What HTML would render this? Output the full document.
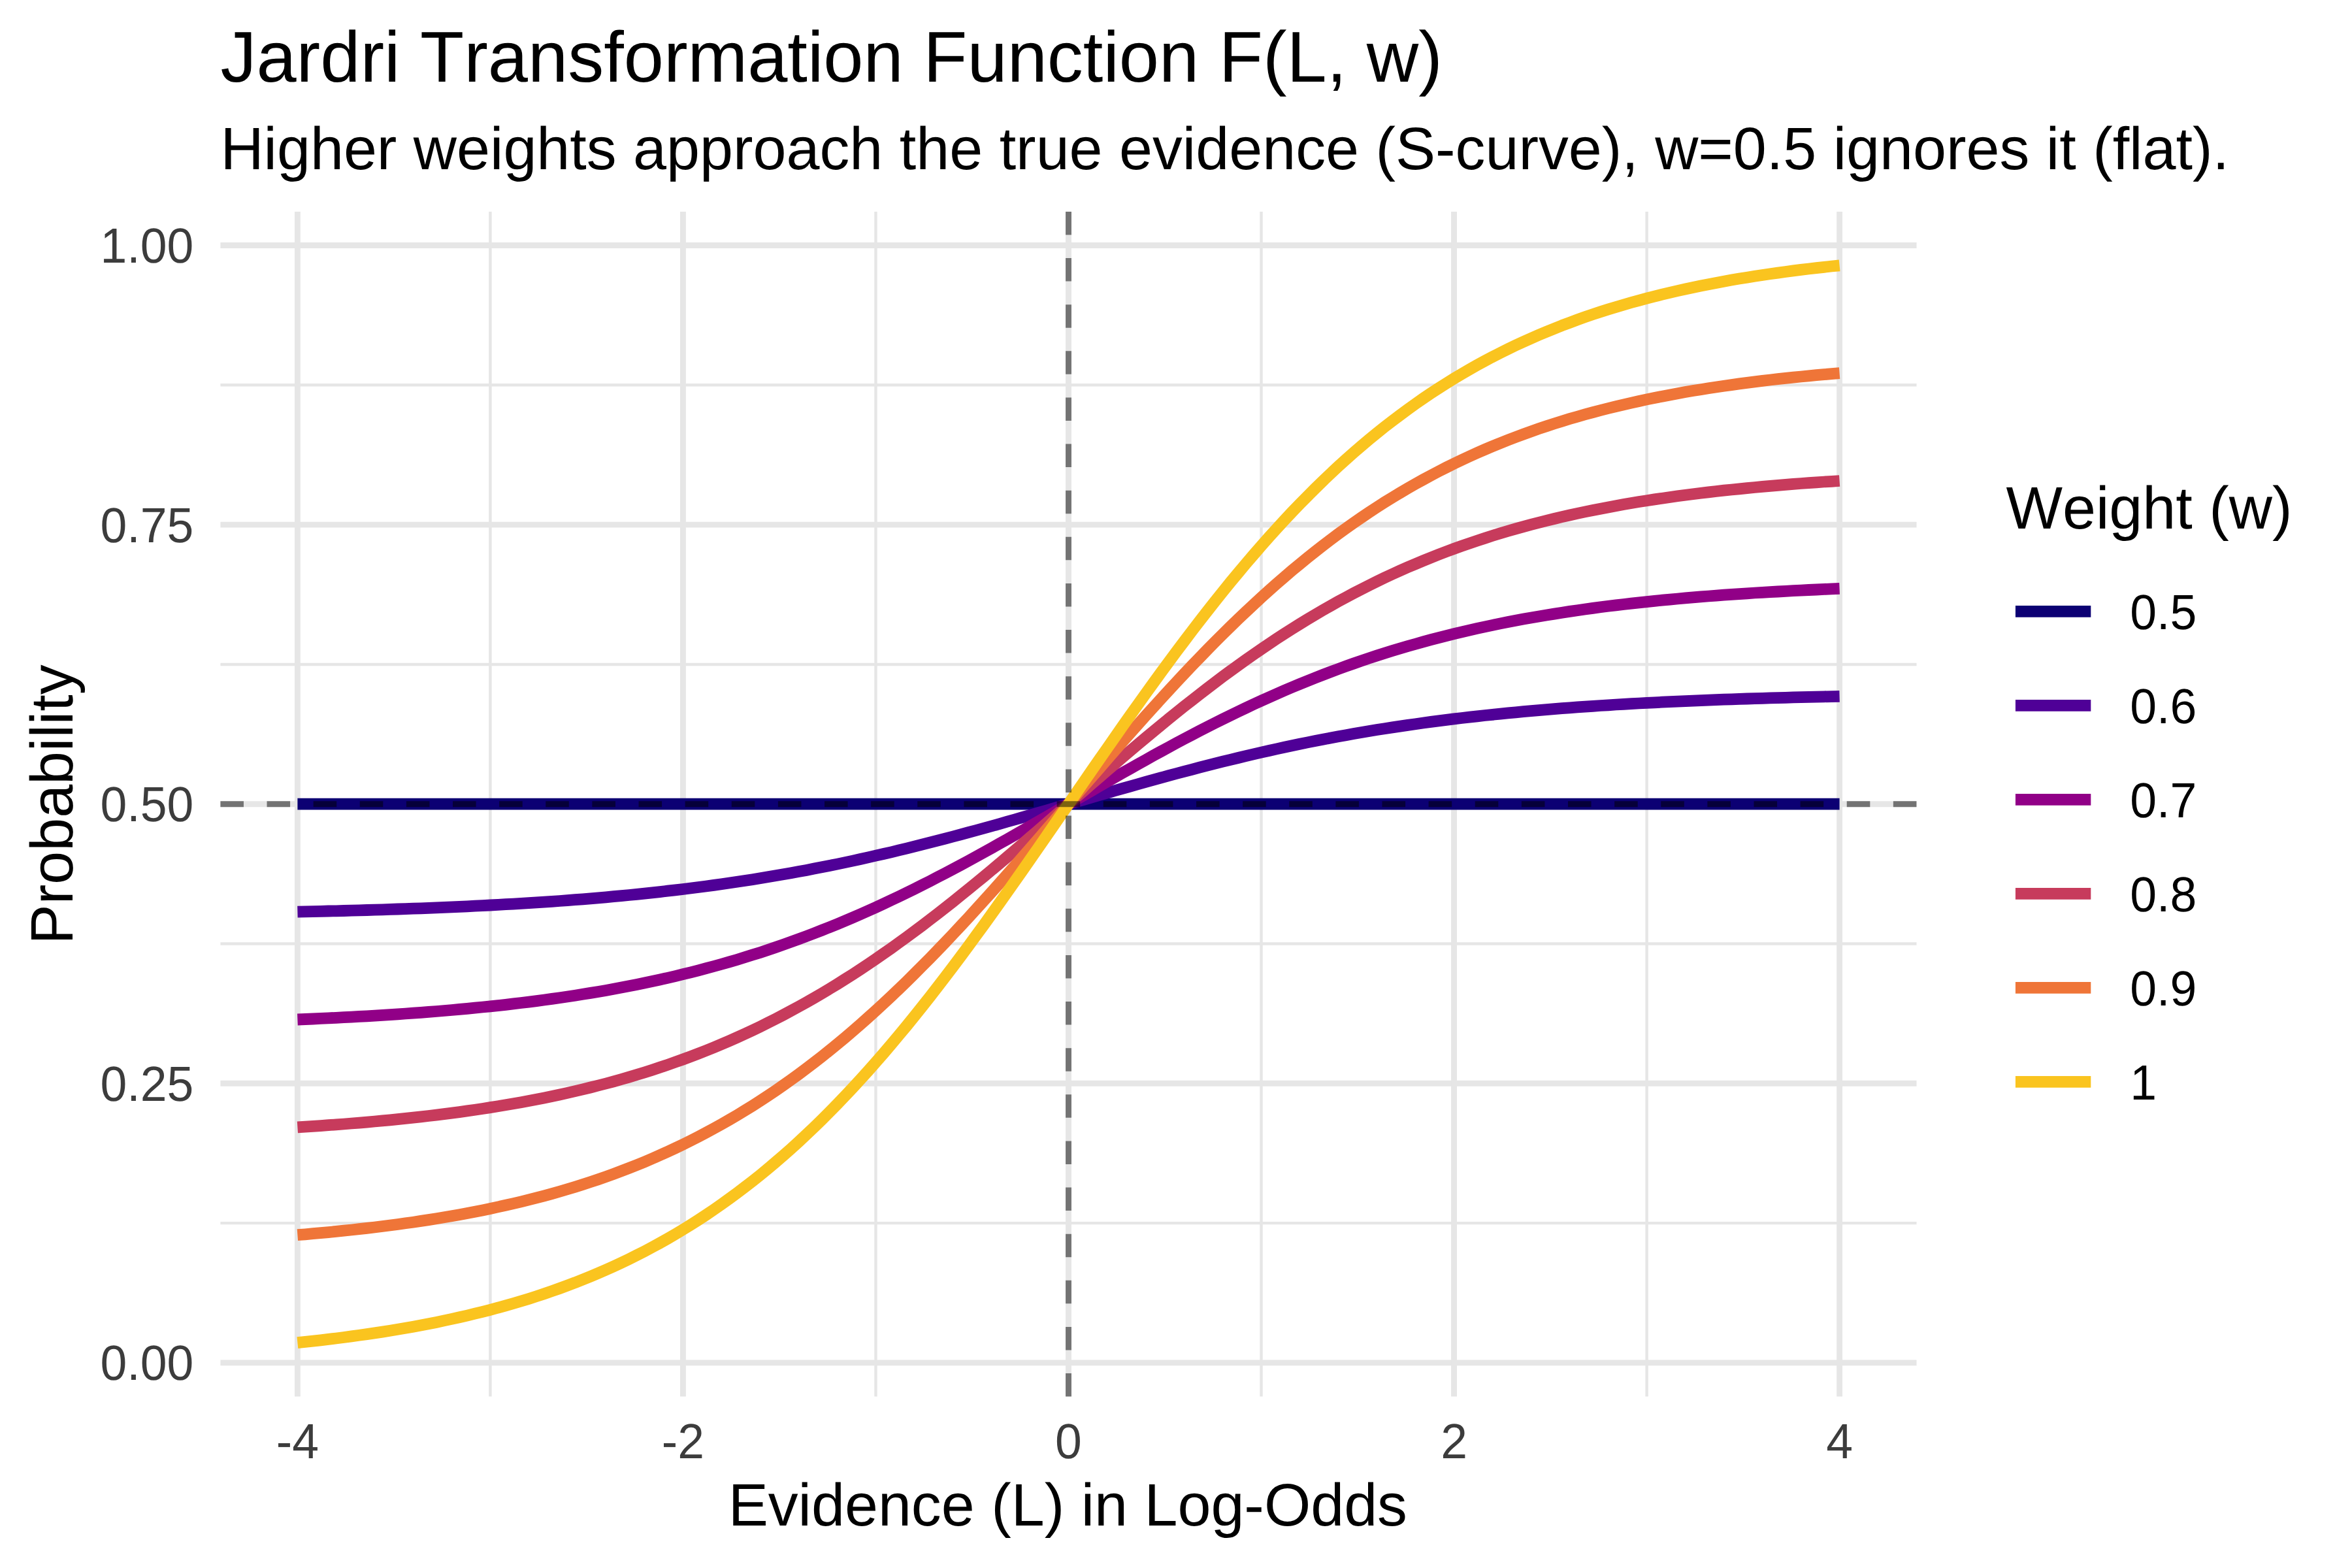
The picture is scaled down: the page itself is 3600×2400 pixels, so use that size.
<!DOCTYPE html>
<html lang="en"><head><meta charset="utf-8"><title>Jardri Transformation Function F(L, w)</title>
<style>
html,body{margin:0;padding:0;background:#fff;}
body{width:3600px;height:2400px;overflow:hidden;}
svg{display:block;}
text{font-family:"Liberation Sans",sans-serif;font-kerning:none;text-rendering:geometricPrecision;}
</style></head><body>
<svg width="3600" height="2400" viewBox="0 0 3600 2400">
<rect width="3600" height="2400" fill="#ffffff"/>
<g stroke="#e6e6e6" fill="none" stroke-width="4.45">
<line x1="337.4" x2="2933.5" y1="1872.10" y2="1872.10"/>
<line x1="337.4" x2="2933.5" y1="1444.50" y2="1444.50"/>
<line x1="337.4" x2="2933.5" y1="1016.90" y2="1016.90"/>
<line x1="337.4" x2="2933.5" y1="589.30" y2="589.30"/>
<line y1="323.9" y2="2137.4" x1="750.41" x2="750.41"/>
<line y1="323.9" y2="2137.4" x1="1340.47" x2="1340.47"/>
<line y1="323.9" y2="2137.4" x1="1930.53" x2="1930.53"/>
<line y1="323.9" y2="2137.4" x1="2520.59" x2="2520.59"/>
</g>
<g stroke="#e6e6e6" fill="none" stroke-width="8.89">
<line x1="337.4" x2="2933.5" y1="2085.90" y2="2085.90"/>
<line x1="337.4" x2="2933.5" y1="1658.30" y2="1658.30"/>
<line x1="337.4" x2="2933.5" y1="1230.70" y2="1230.70"/>
<line x1="337.4" x2="2933.5" y1="803.10" y2="803.10"/>
<line x1="337.4" x2="2933.5" y1="375.50" y2="375.50"/>
<line y1="323.9" y2="2137.4" x1="455.38" x2="455.38"/>
<line y1="323.9" y2="2137.4" x1="1045.44" x2="1045.44"/>
<line y1="323.9" y2="2137.4" x1="1635.50" x2="1635.50"/>
<line y1="323.9" y2="2137.4" x1="2225.56" x2="2225.56"/>
<line y1="323.9" y2="2137.4" x1="2815.62" x2="2815.62"/>
</g>
<g fill="none" stroke-width="17.78" stroke-linejoin="round" stroke-linecap="butt">
<path stroke="#0c0073" d="M455.4 1230.7 L467.2 1230.7 L479.0 1230.7 L490.8 1230.7 L502.6 1230.7 L514.4 1230.7 L526.2 1230.7 L538.0 1230.7 L549.8 1230.7 L561.6 1230.7 L573.4 1230.7 L585.2 1230.7 L597.0 1230.7 L608.8 1230.7 L620.6 1230.7 L632.4 1230.7 L644.2 1230.7 L656.0 1230.7 L667.8 1230.7 L679.6 1230.7 L691.4 1230.7 L703.2 1230.7 L715.0 1230.7 L726.8 1230.7 L738.6 1230.7 L750.4 1230.7 L762.2 1230.7 L774.0 1230.7 L785.8 1230.7 L797.6 1230.7 L809.4 1230.7 L821.2 1230.7 L833.0 1230.7 L844.8 1230.7 L856.6 1230.7 L868.4 1230.7 L880.2 1230.7 L892.0 1230.7 L903.8 1230.7 L915.6 1230.7 L927.4 1230.7 L939.2 1230.7 L951.0 1230.7 L962.8 1230.7 L974.6 1230.7 L986.4 1230.7 L998.2 1230.7 L1010.0 1230.7 L1021.8 1230.7 L1033.6 1230.7 L1045.4 1230.7 L1057.2 1230.7 L1069.0 1230.7 L1080.8 1230.7 L1092.6 1230.7 L1104.4 1230.7 L1116.2 1230.7 L1128.0 1230.7 L1139.8 1230.7 L1151.7 1230.7 L1163.5 1230.7 L1175.3 1230.7 L1187.1 1230.7 L1198.9 1230.7 L1210.7 1230.7 L1222.5 1230.7 L1234.3 1230.7 L1246.1 1230.7 L1257.9 1230.7 L1269.7 1230.7 L1281.5 1230.7 L1293.3 1230.7 L1305.1 1230.7 L1316.9 1230.7 L1328.7 1230.7 L1340.5 1230.7 L1352.3 1230.7 L1364.1 1230.7 L1375.9 1230.7 L1387.7 1230.7 L1399.5 1230.7 L1411.3 1230.7 L1423.1 1230.7 L1434.9 1230.7 L1446.7 1230.7 L1458.5 1230.7 L1470.3 1230.7 L1482.1 1230.7 L1493.9 1230.7 L1505.7 1230.7 L1517.5 1230.7 L1529.3 1230.7 L1541.1 1230.7 L1552.9 1230.7 L1564.7 1230.7 L1576.5 1230.7 L1588.3 1230.7 L1600.1 1230.7 L1611.9 1230.7 L1623.7 1230.7 L1635.5 1230.7 L1647.3 1230.7 L1659.1 1230.7 L1670.9 1230.7 L1682.7 1230.7 L1694.5 1230.7 L1706.3 1230.7 L1718.1 1230.7 L1729.9 1230.7 L1741.7 1230.7 L1753.5 1230.7 L1765.3 1230.7 L1777.1 1230.7 L1788.9 1230.7 L1800.7 1230.7 L1812.5 1230.7 L1824.3 1230.7 L1836.1 1230.7 L1847.9 1230.7 L1859.7 1230.7 L1871.5 1230.7 L1883.3 1230.7 L1895.1 1230.7 L1906.9 1230.7 L1918.7 1230.7 L1930.5 1230.7 L1942.3 1230.7 L1954.1 1230.7 L1965.9 1230.7 L1977.7 1230.7 L1989.5 1230.7 L2001.3 1230.7 L2013.1 1230.7 L2024.9 1230.7 L2036.7 1230.7 L2048.5 1230.7 L2060.3 1230.7 L2072.1 1230.7 L2083.9 1230.7 L2095.7 1230.7 L2107.5 1230.7 L2119.3 1230.7 L2131.2 1230.7 L2143.0 1230.7 L2154.8 1230.7 L2166.6 1230.7 L2178.4 1230.7 L2190.2 1230.7 L2202.0 1230.7 L2213.8 1230.7 L2225.6 1230.7 L2237.4 1230.7 L2249.2 1230.7 L2261.0 1230.7 L2272.8 1230.7 L2284.6 1230.7 L2296.4 1230.7 L2308.2 1230.7 L2320.0 1230.7 L2331.8 1230.7 L2343.6 1230.7 L2355.4 1230.7 L2367.2 1230.7 L2379.0 1230.7 L2390.8 1230.7 L2402.6 1230.7 L2414.4 1230.7 L2426.2 1230.7 L2438.0 1230.7 L2449.8 1230.7 L2461.6 1230.7 L2473.4 1230.7 L2485.2 1230.7 L2497.0 1230.7 L2508.8 1230.7 L2520.6 1230.7 L2532.4 1230.7 L2544.2 1230.7 L2556.0 1230.7 L2567.8 1230.7 L2579.6 1230.7 L2591.4 1230.7 L2603.2 1230.7 L2615.0 1230.7 L2626.8 1230.7 L2638.6 1230.7 L2650.4 1230.7 L2662.2 1230.7 L2674.0 1230.7 L2685.8 1230.7 L2697.6 1230.7 L2709.4 1230.7 L2721.2 1230.7 L2733.0 1230.7 L2744.8 1230.7 L2756.6 1230.7 L2768.4 1230.7 L2780.2 1230.7 L2792.0 1230.7 L2803.8 1230.7 L2815.6 1230.7"/>
<path stroke="#4f0097" d="M455.4 1395.6 L467.2 1395.3 L479.0 1395.1 L490.8 1394.8 L502.6 1394.5 L514.4 1394.3 L526.2 1394.0 L538.0 1393.6 L549.8 1393.3 L561.6 1393.0 L573.4 1392.6 L585.2 1392.3 L597.0 1391.9 L608.8 1391.5 L620.6 1391.1 L632.4 1390.7 L644.2 1390.3 L656.0 1389.8 L667.8 1389.3 L679.6 1388.8 L691.4 1388.3 L703.2 1387.8 L715.0 1387.3 L726.8 1386.7 L738.6 1386.1 L750.4 1385.5 L762.2 1384.9 L774.0 1384.2 L785.8 1383.6 L797.6 1382.9 L809.4 1382.1 L821.2 1381.4 L833.0 1380.6 L844.8 1379.8 L856.6 1379.0 L868.4 1378.1 L880.2 1377.2 L892.0 1376.3 L903.8 1375.3 L915.6 1374.3 L927.4 1373.3 L939.2 1372.2 L951.0 1371.1 L962.8 1370.0 L974.6 1368.8 L986.4 1367.6 L998.2 1366.4 L1010.0 1365.1 L1021.8 1363.7 L1033.6 1362.4 L1045.4 1361.0 L1057.2 1359.5 L1069.0 1358.0 L1080.8 1356.5 L1092.6 1354.9 L1104.4 1353.2 L1116.2 1351.5 L1128.0 1349.8 L1139.8 1348.0 L1151.7 1346.2 L1163.5 1344.3 L1175.3 1342.3 L1187.1 1340.3 L1198.9 1338.3 L1210.7 1336.2 L1222.5 1334.1 L1234.3 1331.9 L1246.1 1329.6 L1257.9 1327.3 L1269.7 1325.0 L1281.5 1322.6 L1293.3 1320.1 L1305.1 1317.6 L1316.9 1315.0 L1328.7 1312.4 L1340.5 1309.7 L1352.3 1307.0 L1364.1 1304.3 L1375.9 1301.4 L1387.7 1298.6 L1399.5 1295.7 L1411.3 1292.7 L1423.1 1289.7 L1434.9 1286.7 L1446.7 1283.6 L1458.5 1280.5 L1470.3 1277.4 L1482.1 1274.2 L1493.9 1271.0 L1505.7 1267.7 L1517.5 1264.5 L1529.3 1261.2 L1541.1 1257.8 L1552.9 1254.5 L1564.7 1251.1 L1576.5 1247.7 L1588.3 1244.4 L1600.1 1241.0 L1611.9 1237.5 L1623.7 1234.1 L1635.5 1230.7 L1647.3 1227.3 L1659.1 1223.9 L1670.9 1220.4 L1682.7 1217.0 L1694.5 1213.7 L1706.3 1210.3 L1718.1 1206.9 L1729.9 1203.6 L1741.7 1200.2 L1753.5 1196.9 L1765.3 1193.7 L1777.1 1190.4 L1788.9 1187.2 L1800.7 1184.0 L1812.5 1180.9 L1824.3 1177.8 L1836.1 1174.7 L1847.9 1171.7 L1859.7 1168.7 L1871.5 1165.7 L1883.3 1162.8 L1895.1 1160.0 L1906.9 1157.1 L1918.7 1154.4 L1930.5 1151.7 L1942.3 1149.0 L1954.1 1146.4 L1965.9 1143.8 L1977.7 1141.3 L1989.5 1138.8 L2001.3 1136.4 L2013.1 1134.1 L2024.9 1131.8 L2036.7 1129.5 L2048.5 1127.3 L2060.3 1125.2 L2072.1 1123.1 L2083.9 1121.1 L2095.7 1119.1 L2107.5 1117.1 L2119.3 1115.2 L2131.2 1113.4 L2143.0 1111.6 L2154.8 1109.9 L2166.6 1108.2 L2178.4 1106.5 L2190.2 1104.9 L2202.0 1103.4 L2213.8 1101.9 L2225.6 1100.4 L2237.4 1099.0 L2249.2 1097.7 L2261.0 1096.3 L2272.8 1095.0 L2284.6 1093.8 L2296.4 1092.6 L2308.2 1091.4 L2320.0 1090.3 L2331.8 1089.2 L2343.6 1088.1 L2355.4 1087.1 L2367.2 1086.1 L2379.0 1085.1 L2390.8 1084.2 L2402.6 1083.3 L2414.4 1082.4 L2426.2 1081.6 L2438.0 1080.8 L2449.8 1080.0 L2461.6 1079.3 L2473.4 1078.5 L2485.2 1077.8 L2497.0 1077.2 L2508.8 1076.5 L2520.6 1075.9 L2532.4 1075.3 L2544.2 1074.7 L2556.0 1074.1 L2567.8 1073.6 L2579.6 1073.1 L2591.4 1072.6 L2603.2 1072.1 L2615.0 1071.6 L2626.8 1071.1 L2638.6 1070.7 L2650.4 1070.3 L2662.2 1069.9 L2674.0 1069.5 L2685.8 1069.1 L2697.6 1068.8 L2709.4 1068.4 L2721.2 1068.1 L2733.0 1067.8 L2744.8 1067.4 L2756.6 1067.1 L2768.4 1066.9 L2780.2 1066.6 L2792.0 1066.3 L2803.8 1066.1 L2815.6 1065.8"/>
<path stroke="#910087" d="M455.4 1560.5 L467.2 1560.0 L479.0 1559.5 L490.8 1558.9 L502.6 1558.4 L514.4 1557.8 L526.2 1557.2 L538.0 1556.6 L549.8 1555.9 L561.6 1555.3 L573.4 1554.6 L585.2 1553.9 L597.0 1553.1 L608.8 1552.3 L620.6 1551.5 L632.4 1550.7 L644.2 1549.8 L656.0 1548.9 L667.8 1548.0 L679.6 1547.0 L691.4 1546.0 L703.2 1544.9 L715.0 1543.8 L726.8 1542.7 L738.6 1541.5 L750.4 1540.3 L762.2 1539.1 L774.0 1537.8 L785.8 1536.4 L797.6 1535.0 L809.4 1533.6 L821.2 1532.1 L833.0 1530.5 L844.8 1528.9 L856.6 1527.2 L868.4 1525.5 L880.2 1523.7 L892.0 1521.8 L903.8 1519.9 L915.6 1517.9 L927.4 1515.9 L939.2 1513.8 L951.0 1511.6 L962.8 1509.3 L974.6 1507.0 L986.4 1504.5 L998.2 1502.0 L1010.0 1499.5 L1021.8 1496.8 L1033.6 1494.1 L1045.4 1491.2 L1057.2 1488.3 L1069.0 1485.3 L1080.8 1482.2 L1092.6 1479.0 L1104.4 1475.7 L1116.2 1472.4 L1128.0 1468.9 L1139.8 1465.3 L1151.7 1461.6 L1163.5 1457.9 L1175.3 1454.0 L1187.1 1450.0 L1198.9 1445.9 L1210.7 1441.7 L1222.5 1437.4 L1234.3 1433.0 L1246.1 1428.5 L1257.9 1423.9 L1269.7 1419.2 L1281.5 1414.4 L1293.3 1409.5 L1305.1 1404.5 L1316.9 1399.3 L1328.7 1394.1 L1340.5 1388.8 L1352.3 1383.4 L1364.1 1377.8 L1375.9 1372.2 L1387.7 1366.5 L1399.5 1360.7 L1411.3 1354.8 L1423.1 1348.8 L1434.9 1342.7 L1446.7 1336.6 L1458.5 1330.4 L1470.3 1324.1 L1482.1 1317.7 L1493.9 1311.3 L1505.7 1304.8 L1517.5 1298.2 L1529.3 1291.6 L1541.1 1285.0 L1552.9 1278.3 L1564.7 1271.6 L1576.5 1264.8 L1588.3 1258.0 L1600.1 1251.2 L1611.9 1244.4 L1623.7 1237.5 L1635.5 1230.7 L1647.3 1223.9 L1659.1 1217.0 L1670.9 1210.2 L1682.7 1203.4 L1694.5 1196.6 L1706.3 1189.8 L1718.1 1183.1 L1729.9 1176.4 L1741.7 1169.8 L1753.5 1163.2 L1765.3 1156.6 L1777.1 1150.1 L1788.9 1143.7 L1800.7 1137.3 L1812.5 1131.0 L1824.3 1124.8 L1836.1 1118.7 L1847.9 1112.6 L1859.7 1106.6 L1871.5 1100.7 L1883.3 1094.9 L1895.1 1089.2 L1906.9 1083.6 L1918.7 1078.0 L1930.5 1072.6 L1942.3 1067.3 L1954.1 1062.1 L1965.9 1056.9 L1977.7 1051.9 L1989.5 1047.0 L2001.3 1042.2 L2013.1 1037.5 L2024.9 1032.9 L2036.7 1028.4 L2048.5 1024.0 L2060.3 1019.7 L2072.1 1015.5 L2083.9 1011.4 L2095.7 1007.4 L2107.5 1003.5 L2119.3 999.8 L2131.2 996.1 L2143.0 992.5 L2154.8 989.0 L2166.6 985.7 L2178.4 982.4 L2190.2 979.2 L2202.0 976.1 L2213.8 973.1 L2225.6 970.2 L2237.4 967.3 L2249.2 964.6 L2261.0 961.9 L2272.8 959.4 L2284.6 956.9 L2296.4 954.4 L2308.2 952.1 L2320.0 949.8 L2331.8 947.6 L2343.6 945.5 L2355.4 943.5 L2367.2 941.5 L2379.0 939.6 L2390.8 937.7 L2402.6 935.9 L2414.4 934.2 L2426.2 932.5 L2438.0 930.9 L2449.8 929.3 L2461.6 927.8 L2473.4 926.4 L2485.2 925.0 L2497.0 923.6 L2508.8 922.3 L2520.6 921.1 L2532.4 919.9 L2544.2 918.7 L2556.0 917.6 L2567.8 916.5 L2579.6 915.4 L2591.4 914.4 L2603.2 913.4 L2615.0 912.5 L2626.8 911.6 L2638.6 910.7 L2650.4 909.9 L2662.2 909.1 L2674.0 908.3 L2685.8 907.5 L2697.6 906.8 L2709.4 906.1 L2721.2 905.5 L2733.0 904.8 L2744.8 904.2 L2756.6 903.6 L2768.4 903.0 L2780.2 902.5 L2792.0 901.9 L2803.8 901.4 L2815.6 900.9"/>
<path stroke="#c73b5c" d="M455.4 1725.4 L467.2 1724.6 L479.0 1723.9 L490.8 1723.1 L502.6 1722.2 L514.4 1721.4 L526.2 1720.5 L538.0 1719.5 L549.8 1718.6 L561.6 1717.6 L573.4 1716.5 L585.2 1715.4 L597.0 1714.3 L608.8 1713.1 L620.6 1711.9 L632.4 1710.7 L644.2 1709.4 L656.0 1708.0 L667.8 1706.6 L679.6 1705.1 L691.4 1703.6 L703.2 1702.1 L715.0 1700.4 L726.8 1698.7 L738.6 1697.0 L750.4 1695.1 L762.2 1693.3 L774.0 1691.3 L785.8 1689.3 L797.6 1687.2 L809.4 1685.0 L821.2 1682.7 L833.0 1680.4 L844.8 1678.0 L856.6 1675.5 L868.4 1672.9 L880.2 1670.2 L892.0 1667.4 L903.8 1664.5 L915.6 1661.5 L927.4 1658.5 L939.2 1655.3 L951.0 1652.0 L962.8 1648.6 L974.6 1645.1 L986.4 1641.5 L998.2 1637.7 L1010.0 1633.8 L1021.8 1629.8 L1033.6 1625.7 L1045.4 1621.5 L1057.2 1617.1 L1069.0 1612.6 L1080.8 1608.0 L1092.6 1603.2 L1104.4 1598.2 L1116.2 1593.2 L1128.0 1588.0 L1139.8 1582.6 L1151.7 1577.1 L1163.5 1571.4 L1175.3 1565.6 L1187.1 1559.6 L1198.9 1553.5 L1210.7 1547.2 L1222.5 1540.8 L1234.3 1534.2 L1246.1 1527.5 L1257.9 1520.6 L1269.7 1513.5 L1281.5 1506.3 L1293.3 1498.9 L1305.1 1491.4 L1316.9 1483.7 L1328.7 1475.8 L1340.5 1467.8 L1352.3 1459.7 L1364.1 1451.4 L1375.9 1442.9 L1387.7 1434.4 L1399.5 1425.7 L1411.3 1416.8 L1423.1 1407.8 L1434.9 1398.7 L1446.7 1389.5 L1458.5 1380.2 L1470.3 1370.7 L1482.1 1361.2 L1493.9 1351.5 L1505.7 1341.8 L1517.5 1332.0 L1529.3 1322.1 L1541.1 1312.1 L1552.9 1302.1 L1564.7 1292.0 L1576.5 1281.8 L1588.3 1271.7 L1600.1 1261.5 L1611.9 1251.2 L1623.7 1241.0 L1635.5 1230.7 L1647.3 1220.4 L1659.1 1210.2 L1670.9 1199.9 L1682.7 1189.7 L1694.5 1179.6 L1706.3 1169.4 L1718.1 1159.3 L1729.9 1149.3 L1741.7 1139.3 L1753.5 1129.4 L1765.3 1119.6 L1777.1 1109.9 L1788.9 1100.2 L1800.7 1090.7 L1812.5 1081.2 L1824.3 1071.9 L1836.1 1062.7 L1847.9 1053.6 L1859.7 1044.6 L1871.5 1035.7 L1883.3 1027.0 L1895.1 1018.5 L1906.9 1010.0 L1918.7 1001.7 L1930.5 993.6 L1942.3 985.6 L1954.1 977.7 L1965.9 970.0 L1977.7 962.5 L1989.5 955.1 L2001.3 947.9 L2013.1 940.8 L2024.9 933.9 L2036.7 927.2 L2048.5 920.6 L2060.3 914.2 L2072.1 907.9 L2083.9 901.8 L2095.7 895.8 L2107.5 890.0 L2119.3 884.3 L2131.2 878.8 L2143.0 873.4 L2154.8 868.2 L2166.6 863.2 L2178.4 858.2 L2190.2 853.4 L2202.0 848.8 L2213.8 844.3 L2225.6 839.9 L2237.4 835.7 L2249.2 831.6 L2261.0 827.6 L2272.8 823.7 L2284.6 819.9 L2296.4 816.3 L2308.2 812.8 L2320.0 809.4 L2331.8 806.1 L2343.6 802.9 L2355.4 799.9 L2367.2 796.9 L2379.0 794.0 L2390.8 791.2 L2402.6 788.5 L2414.4 785.9 L2426.2 783.4 L2438.0 781.0 L2449.8 778.7 L2461.6 776.4 L2473.4 774.2 L2485.2 772.1 L2497.0 770.1 L2508.8 768.1 L2520.6 766.3 L2532.4 764.4 L2544.2 762.7 L2556.0 761.0 L2567.8 759.3 L2579.6 757.8 L2591.4 756.3 L2603.2 754.8 L2615.0 753.4 L2626.8 752.0 L2638.6 750.7 L2650.4 749.5 L2662.2 748.3 L2674.0 747.1 L2685.8 746.0 L2697.6 744.9 L2709.4 743.8 L2721.2 742.8 L2733.0 741.9 L2744.8 740.9 L2756.6 740.0 L2768.4 739.2 L2780.2 738.3 L2792.0 737.5 L2803.8 736.8 L2815.6 736.0"/>
<path stroke="#ef7538" d="M455.4 1890.2 L467.2 1889.3 L479.0 1888.2 L490.8 1887.2 L502.6 1886.1 L514.4 1884.9 L526.2 1883.7 L538.0 1882.5 L549.8 1881.2 L561.6 1879.9 L573.4 1878.5 L585.2 1877.0 L597.0 1875.5 L608.8 1874.0 L620.6 1872.3 L632.4 1870.7 L644.2 1868.9 L656.0 1867.1 L667.8 1865.2 L679.6 1863.3 L691.4 1861.3 L703.2 1859.2 L715.0 1857.0 L726.8 1854.7 L738.6 1852.4 L750.4 1850.0 L762.2 1847.4 L774.0 1844.8 L785.8 1842.1 L797.6 1839.3 L809.4 1836.4 L821.2 1833.4 L833.0 1830.3 L844.8 1827.1 L856.6 1823.7 L868.4 1820.3 L880.2 1816.7 L892.0 1813.0 L903.8 1809.1 L915.6 1805.2 L927.4 1801.1 L939.2 1796.8 L951.0 1792.4 L962.8 1787.9 L974.6 1783.2 L986.4 1778.4 L998.2 1773.4 L1010.0 1768.2 L1021.8 1762.9 L1033.6 1757.4 L1045.4 1751.8 L1057.2 1745.9 L1069.0 1739.9 L1080.8 1733.7 L1092.6 1727.3 L1104.4 1720.8 L1116.2 1714.0 L1128.0 1707.1 L1139.8 1699.9 L1151.7 1692.6 L1163.5 1685.0 L1175.3 1677.3 L1187.1 1669.3 L1198.9 1661.1 L1210.7 1652.8 L1222.5 1644.2 L1234.3 1635.4 L1246.1 1626.4 L1257.9 1617.2 L1269.7 1607.8 L1281.5 1598.1 L1293.3 1588.3 L1305.1 1578.2 L1316.9 1568.0 L1328.7 1557.5 L1340.5 1546.9 L1352.3 1536.0 L1364.1 1524.9 L1375.9 1513.7 L1387.7 1502.3 L1399.5 1490.6 L1411.3 1478.8 L1423.1 1466.9 L1434.9 1454.7 L1446.7 1442.5 L1458.5 1430.0 L1470.3 1417.4 L1482.1 1404.7 L1493.9 1391.8 L1505.7 1378.8 L1517.5 1365.7 L1529.3 1352.5 L1541.1 1339.2 L1552.9 1325.9 L1564.7 1312.4 L1576.5 1298.9 L1588.3 1285.3 L1600.1 1271.7 L1611.9 1258.1 L1623.7 1244.4 L1635.5 1230.7 L1647.3 1217.0 L1659.1 1203.3 L1670.9 1189.7 L1682.7 1176.1 L1694.5 1162.5 L1706.3 1149.0 L1718.1 1135.5 L1729.9 1122.2 L1741.7 1108.9 L1753.5 1095.7 L1765.3 1082.6 L1777.1 1069.6 L1788.9 1056.7 L1800.7 1044.0 L1812.5 1031.4 L1824.3 1018.9 L1836.1 1006.7 L1847.9 994.5 L1859.7 982.6 L1871.5 970.8 L1883.3 959.1 L1895.1 947.7 L1906.9 936.5 L1918.7 925.4 L1930.5 914.5 L1942.3 903.9 L1954.1 893.4 L1965.9 883.2 L1977.7 873.1 L1989.5 863.3 L2001.3 853.6 L2013.1 844.2 L2024.9 835.0 L2036.7 826.0 L2048.5 817.2 L2060.3 808.6 L2072.1 800.3 L2083.9 792.1 L2095.7 784.1 L2107.5 776.4 L2119.3 768.8 L2131.2 761.5 L2143.0 754.3 L2154.8 747.4 L2166.6 740.6 L2178.4 734.1 L2190.2 727.7 L2202.0 721.5 L2213.8 715.5 L2225.6 709.6 L2237.4 704.0 L2249.2 698.5 L2261.0 693.2 L2272.8 688.0 L2284.6 683.0 L2296.4 678.2 L2308.2 673.5 L2320.0 669.0 L2331.8 664.6 L2343.6 660.3 L2355.4 656.2 L2367.2 652.3 L2379.0 648.4 L2390.8 644.7 L2402.6 641.1 L2414.4 637.7 L2426.2 634.3 L2438.0 631.1 L2449.8 628.0 L2461.6 625.0 L2473.4 622.1 L2485.2 619.3 L2497.0 616.6 L2508.8 614.0 L2520.6 611.4 L2532.4 609.0 L2544.2 606.7 L2556.0 604.4 L2567.8 602.2 L2579.6 600.1 L2591.4 598.1 L2603.2 596.2 L2615.0 594.3 L2626.8 592.5 L2638.6 590.7 L2650.4 589.1 L2662.2 587.4 L2674.0 585.9 L2685.8 584.4 L2697.6 582.9 L2709.4 581.5 L2721.2 580.2 L2733.0 578.9 L2744.8 577.7 L2756.6 576.5 L2768.4 575.3 L2780.2 574.2 L2792.0 573.2 L2803.8 572.1 L2815.6 571.2"/>
<path stroke="#fac41f" d="M455.4 2055.1 L467.2 2053.9 L479.0 2052.6 L490.8 2051.3 L502.6 2049.9 L514.4 2048.5 L526.2 2047.0 L538.0 2045.4 L549.8 2043.8 L561.6 2042.1 L573.4 2040.4 L585.2 2038.6 L597.0 2036.7 L608.8 2034.8 L620.6 2032.8 L632.4 2030.7 L644.2 2028.5 L656.0 2026.2 L667.8 2023.9 L679.6 2021.4 L691.4 2018.9 L703.2 2016.3 L715.0 2013.6 L726.8 2010.7 L738.6 2007.8 L750.4 2004.8 L762.2 2001.6 L774.0 1998.4 L785.8 1995.0 L797.6 1991.5 L809.4 1987.9 L821.2 1984.1 L833.0 1980.2 L844.8 1976.2 L856.6 1972.0 L868.4 1967.6 L880.2 1963.2 L892.0 1958.5 L903.8 1953.7 L915.6 1948.8 L927.4 1943.6 L939.2 1938.3 L951.0 1932.9 L962.8 1927.2 L974.6 1921.3 L986.4 1915.3 L998.2 1909.0 L1010.0 1902.6 L1021.8 1895.9 L1033.6 1889.1 L1045.4 1882.0 L1057.2 1874.7 L1069.0 1867.2 L1080.8 1859.5 L1092.6 1851.5 L1104.4 1843.3 L1116.2 1834.8 L1128.0 1826.1 L1139.8 1817.2 L1151.7 1808.0 L1163.5 1798.6 L1175.3 1788.9 L1187.1 1778.9 L1198.9 1768.7 L1210.7 1758.3 L1222.5 1747.6 L1234.3 1736.6 L1246.1 1725.3 L1257.9 1713.8 L1269.7 1702.0 L1281.5 1690.0 L1293.3 1677.7 L1305.1 1665.1 L1316.9 1652.3 L1328.7 1639.2 L1340.5 1625.9 L1352.3 1612.3 L1364.1 1598.5 L1375.9 1584.4 L1387.7 1570.2 L1399.5 1555.6 L1411.3 1540.9 L1423.1 1525.9 L1434.9 1510.8 L1446.7 1495.4 L1458.5 1479.8 L1470.3 1464.1 L1482.1 1448.2 L1493.9 1432.1 L1505.7 1415.9 L1517.5 1399.5 L1529.3 1383.0 L1541.1 1366.4 L1552.9 1349.7 L1564.7 1332.8 L1576.5 1315.9 L1588.3 1299.0 L1600.1 1282.0 L1611.9 1264.9 L1623.7 1247.8 L1635.5 1230.7 L1647.3 1213.6 L1659.1 1196.5 L1670.9 1179.4 L1682.7 1162.4 L1694.5 1145.5 L1706.3 1128.6 L1718.1 1111.7 L1729.9 1095.0 L1741.7 1078.4 L1753.5 1061.9 L1765.3 1045.5 L1777.1 1029.3 L1788.9 1013.2 L1800.7 997.3 L1812.5 981.6 L1824.3 966.0 L1836.1 950.6 L1847.9 935.5 L1859.7 920.5 L1871.5 905.8 L1883.3 891.2 L1895.1 877.0 L1906.9 862.9 L1918.7 849.1 L1930.5 835.5 L1942.3 822.2 L1954.1 809.1 L1965.9 796.3 L1977.7 783.7 L1989.5 771.4 L2001.3 759.4 L2013.1 747.6 L2024.9 736.1 L2036.7 724.8 L2048.5 713.8 L2060.3 703.1 L2072.1 692.7 L2083.9 682.5 L2095.7 672.5 L2107.5 662.8 L2119.3 653.4 L2131.2 644.2 L2143.0 635.3 L2154.8 626.6 L2166.6 618.1 L2178.4 609.9 L2190.2 601.9 L2202.0 594.2 L2213.8 586.7 L2225.6 579.4 L2237.4 572.3 L2249.2 565.5 L2261.0 558.8 L2272.8 552.4 L2284.6 546.1 L2296.4 540.1 L2308.2 534.2 L2320.0 528.5 L2331.8 523.1 L2343.6 517.8 L2355.4 512.6 L2367.2 507.7 L2379.0 502.9 L2390.8 498.2 L2402.6 493.8 L2414.4 489.4 L2426.2 485.2 L2438.0 481.2 L2449.8 477.3 L2461.6 473.5 L2473.4 469.9 L2485.2 466.4 L2497.0 463.0 L2508.8 459.8 L2520.6 456.6 L2532.4 453.6 L2544.2 450.7 L2556.0 447.8 L2567.8 445.1 L2579.6 442.5 L2591.4 440.0 L2603.2 437.5 L2615.0 435.2 L2626.8 432.9 L2638.6 430.7 L2650.4 428.6 L2662.2 426.6 L2674.0 424.7 L2685.8 422.8 L2697.6 421.0 L2709.4 419.3 L2721.2 417.6 L2733.0 416.0 L2744.8 414.4 L2756.6 412.9 L2768.4 411.5 L2780.2 410.1 L2792.0 408.8 L2803.8 407.5 L2815.6 406.3"/>
</g>
<g stroke="#000" stroke-opacity="0.5" stroke-width="8.89" stroke-dasharray="35.562 35.562" fill="none">
<line x1="337.4" x2="2933.5" y1="1230.70" y2="1230.70"/>
<line y1="2137.6" y2="323.9" x1="1635.50" x2="1635.50"/>
</g>
<text x="337.4" y="124.6" font-size="110" fill="#000">Jardri Transformation Function F(L, w)</text>
<text x="337.4" y="259" font-size="91.67" fill="#000">Higher weights approach the true evidence (S-curve), w=0.5 ignores it (flat).</text>
<g font-size="73.33" fill="#3c3c3c" text-anchor="end">
<text transform="translate(296.2 2112.35) scale(1 1.03)">0.00</text>
<text transform="translate(296.2 1684.75) scale(1 1.03)">0.25</text>
<text transform="translate(296.2 1257.15) scale(1 1.03)">0.50</text>
<text transform="translate(296.2 829.55) scale(1 1.03)">0.75</text>
<text transform="translate(296.2 401.95) scale(1 1.03)">1.00</text>
</g>
<g font-size="73.33" fill="#3c3c3c" text-anchor="middle">
<text transform="translate(455.38 2232.0) scale(1 1.03)">-4</text>
<text transform="translate(1045.44 2232.0) scale(1 1.03)">-2</text>
<text transform="translate(1635.50 2232.0) scale(1 1.03)">0</text>
<text transform="translate(2225.56 2232.0) scale(1 1.03)">2</text>
<text transform="translate(2815.62 2232.0) scale(1 1.03)">4</text>
</g>
<text x="1634.3" y="2335.4" font-size="91.67" text-anchor="middle" fill="#000">Evidence (L) in Log-Odds</text>
<text transform="translate(111.0 1231.5) rotate(-90)" font-size="91.67" text-anchor="middle" fill="#000">Probability</text>
<text x="3070.5" y="808.8" font-size="91.67" fill="#000">Weight (w)</text>
<line x1="3084.9" x2="3200.3" y1="935.90" y2="935.90" stroke="#0c0073" stroke-width="17.78"/>
<text transform="translate(3260.3 962.80) scale(1 1.03)" font-size="73.33" fill="#000">0.5</text>
<line x1="3084.9" x2="3200.3" y1="1079.90" y2="1079.90" stroke="#4f0097" stroke-width="17.78"/>
<text transform="translate(3260.3 1106.80) scale(1 1.03)" font-size="73.33" fill="#000">0.6</text>
<line x1="3084.9" x2="3200.3" y1="1223.90" y2="1223.90" stroke="#910087" stroke-width="17.78"/>
<text transform="translate(3260.3 1250.80) scale(1 1.03)" font-size="73.33" fill="#000">0.7</text>
<line x1="3084.9" x2="3200.3" y1="1367.90" y2="1367.90" stroke="#c73b5c" stroke-width="17.78"/>
<text transform="translate(3260.3 1394.80) scale(1 1.03)" font-size="73.33" fill="#000">0.8</text>
<line x1="3084.9" x2="3200.3" y1="1511.90" y2="1511.90" stroke="#ef7538" stroke-width="17.78"/>
<text transform="translate(3260.3 1538.80) scale(1 1.03)" font-size="73.33" fill="#000">0.9</text>
<line x1="3084.9" x2="3200.3" y1="1655.90" y2="1655.90" stroke="#fac41f" stroke-width="17.78"/>
<text transform="translate(3260.3 1682.80) scale(1 1.03)" font-size="73.33" fill="#000">1</text>
</svg></body></html>
